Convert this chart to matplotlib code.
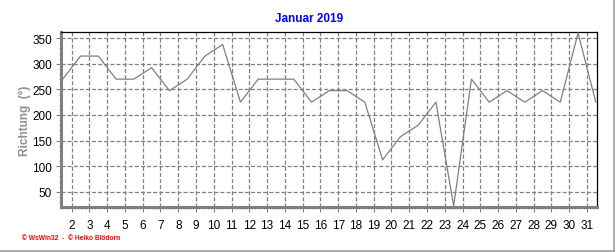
import matplotlib
matplotlib.use("Agg")
import matplotlib.pyplot as plt
from matplotlib.ticker import MultipleLocator, FixedLocator
from matplotlib.lines import Line2D

title = "Januar 2019"
ylabel = "Richtung  (°)"
footer = "© WsWin32  -  © Heiko Blödorn"
days = list(range(1, 32))
direction = [270, 315, 315, 270, 270, 292.5, 247.5, 270, 315, 337.5,
             225, 270, 270, 270, 225, 247.5, 247.5, 225, 112.5, 157.5,
             180, 225, 22.5, 270, 225, 247.5, 225, 247.5, 225, 360, 225]
xticks = list(range(2, 32))
yticks = [50, 100, 150, 200, 250, 300, 350]

plt.rcParams['font.family'] = ['Liberation Sans', 'DejaVu Sans']
plt.rcParams['lines.scale_dashes'] = False

W, H = 616, 253
fig = plt.figure(figsize=(W / 100, H / 100), dpi=100)
ax = fig.add_axes([61 / W, (H - 207.7) / H, (596.7 - 61) / W, (207.7 - 33) / H])

xs = [d + 0.5 for d in days]
ax.plot(xs, direction, color='#808080', lw=0.9, zorder=3, clip_on=True)

ax.set_xlim(1.40, 31.55)
ax.set_ylim(21, 362)
ax.xaxis.set_major_locator(FixedLocator(xticks))
ax.xaxis.set_minor_locator(MultipleLocator(1 / 6))
ax.yaxis.set_major_locator(FixedLocator(yticks))
ax.yaxis.set_minor_locator(MultipleLocator(10))

ax.grid(True, which='major', color='#808080', lw=0.9, linestyle=(0, (2.9, 1.5)))
ax.tick_params(which='major', length=3.5, width=0.8, color='#808080', labelsize=8.5,
               labelcolor='black', pad=3)
ax.tick_params(which='minor', length=1.6, width=0.6, color='#808080')
ax.tick_params(axis='x', pad=5)

for s in ['left', 'bottom']:
    ax.spines[s].set_color('#808080')
    ax.spines[s].set_linewidth(2.2)
for s in ['top', 'right']:
    ax.spines[s].set_color('black')
    ax.spines[s].set_linewidth(0.9)

ax.set_ylabel(ylabel, color='#909090', fontsize=8.5, fontweight='bold', labelpad=0.8)

fig.text(309.5 / W, 1 - 19 / H, title, color='#0000ff', fontsize=8.5, fontweight='bold',
         ha='center', va='center')
fig.text(22 / W, 1 - 238.5 / H, footer, color='#ff0000', fontsize=4.8, fontweight='bold',
         ha='left', va='center')

# outer border (right and bottom)
fig.add_artist(Line2D([613.5 / W, 613.5 / W], [1.2 / H, 1], color='#a0a0a0', lw=1.2,
                      transform=fig.transFigure))
fig.add_artist(Line2D([0, 613.5 / W], [1.2 / H, 1.2 / H], color='#a0a0a0', lw=1.2,
                      transform=fig.transFigure))

fig.savefig("out.png", dpi=100)
